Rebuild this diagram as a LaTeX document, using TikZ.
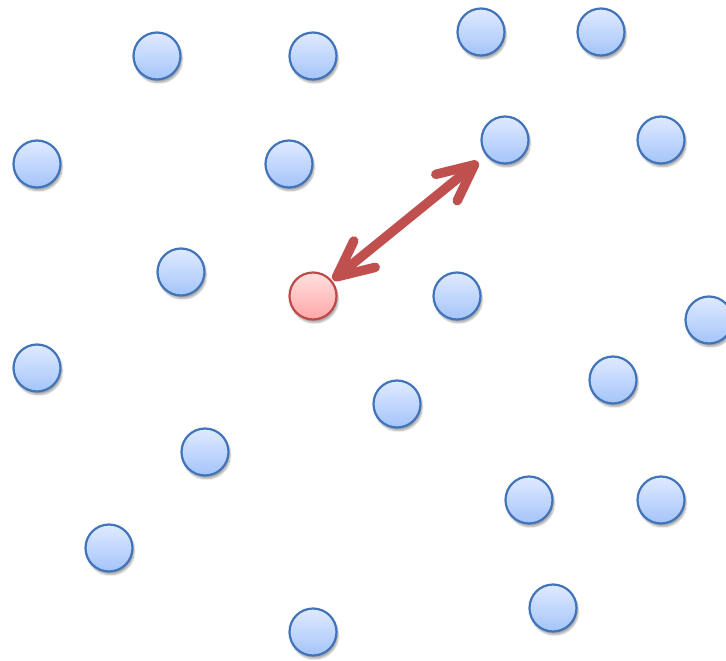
\documentclass[tikz,border=0pt]{standalone}
\usetikzlibrary{arrows.meta,shadows.blur,calc}
\definecolor{bstroke}{RGB}{66,116,186}
\definecolor{btop}{RGB}{224,234,255}
\definecolor{bbot}{RGB}{164,196,250}
\definecolor{rstroke}{RGB}{190,75,72}
\definecolor{rtop}{RGB}{255,224,224}
\definecolor{rbot}{RGB}{255,166,166}
\definecolor{arrred}{RGB}{192,80,77}
\tikzset{
  dot/.style={circle, minimum size=47pt, inner sep=0pt, line width=2.2pt,
    blur shadow={shadow xshift=1.5pt, shadow yshift=-3pt, shadow blur steps=6, shadow blur extra rounding=1.5pt, shadow opacity=35}},
  bluedot/.style={dot, draw=bstroke, top color=btop, bottom color=bbot},
  reddot/.style={dot, draw=rstroke, top color=rtop, bottom color=rbot},
  bigarrow/.style={draw=arrred, line width=9.5pt, line cap=round,
    {Straight Barb[length=36pt, width=34pt, round]}-{Straight Barb[length=36pt, width=34pt, round]}}
}
\begin{document}
\begin{tikzpicture}[x=1pt,y=-1pt]
\useasboundingbox (0,0) rectangle (726,661);
\node[bluedot] (n1) at (157,56) {};
\node[bluedot] (n2) at (313,56) {};
\node[bluedot] (n3) at (481,32) {};
\node[bluedot] (n4) at (601,32) {};
\node[bluedot] (n5) at (37,164) {};
\node[bluedot] (n6) at (289,164) {};
\node[bluedot] (n7) at (505,140) {};
\node[bluedot] (n8) at (661,140) {};
\node[bluedot] (n9) at (181,272) {};
\node[reddot] (r) at (313,296) {};
\node[bluedot] (n11) at (457,296) {};
\node[bluedot] (n12) at (709,320) {};
\node[bluedot] (n13) at (37,368) {};
\node[bluedot] (n14) at (397,404) {};
\node[bluedot] (n15) at (613,380) {};
\node[bluedot] (n16) at (205,452) {};
\node[bluedot] (n17) at (529,500) {};
\node[bluedot] (n18) at (661,500) {};
\node[bluedot] (n19) at (109,548) {};
\node[bluedot] (n20) at (553,608) {};
\node[bluedot] (n21) at (313,632) {};
\draw[bigarrow, shorten <=1pt, shorten >=10pt] (r) -- (n7);
\end{tikzpicture}
\end{document}
